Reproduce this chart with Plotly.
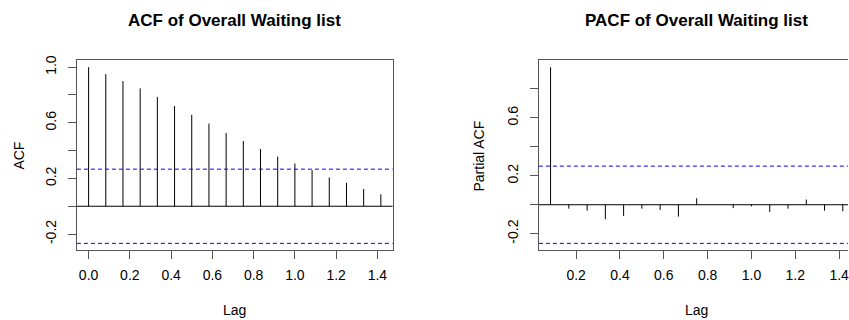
import numpy as np
import plotly.graph_objects as go

# ---------------- data ----------------
n_obs = 54  # series length -> confidence bound 1.96/sqrt(n)
acf_lags = [i / 12 for i in range(0, 18)]
acf_vals = [1.000, 0.950, 0.900, 0.848, 0.786, 0.721, 0.657, 0.595, 0.526,
            0.469, 0.412, 0.357, 0.307, 0.260, 0.207, 0.169, 0.124, 0.086]
pacf_lags = [i / 12 for i in range(1, 18)]
pacf_vals = [0.950, -0.027, -0.041, -0.100, -0.077, -0.027, -0.036, -0.082,
             0.045, 0.003, -0.023, -0.011, -0.050, -0.027, 0.036, -0.041, -0.045]
x_ticks_left = [0.0, 0.2, 0.4, 0.6, 0.8, 1.0, 1.2, 1.4]
x_ticks_right = [0.2, 0.4, 0.6, 0.8, 1.0, 1.2, 1.4]
y_ticks_left = [-0.2, 0.0, 0.2, 0.4, 0.6, 0.8, 1.0]
y_labels_left = ["-0.2", "", "0.2", "", "0.6", "", "1.0"]
y_ticks_right = [-0.2, 0.0, 0.2, 0.4, 0.6, 0.8]
y_labels_right = ["-0.2", "", "0.2", "", "0.6", ""]
titles = ["ACF of Overall Waiting list", "PACF of Overall Waiting list"]
y_titles = ["ACF", "Partial ACF"]
x_title = "Lag"

# ---------------- helpers ----------------
W, H = 849, 320
FONT = "Liberation Sans, Arial, sans-serif"
BOX = "#555555"
clim = 1.96 / np.sqrt(n_obs)


def ext(lo, hi):
    d = (hi - lo) * 0.04
    return [lo - d, hi + d]


def stems(xs, ys):
    sx, sy = [], []
    for x, y in zip(xs, ys):
        sx += [x, x, None]
        sy += [0, y, None]
    return sx, sy


fig = go.Figure()

ax1, ay1 = stems(acf_lags, acf_vals)
fig.add_trace(go.Scatter(x=ax1, y=ay1, mode="lines", line=dict(color="black", width=1),
                         xaxis="x", yaxis="y", showlegend=False, hoverinfo="skip"))
ax2, ay2 = stems(pacf_lags, pacf_vals)
fig.add_trace(go.Scatter(x=ax2, y=ay2, mode="lines", line=dict(color="black", width=1),
                         xaxis="x2", yaxis="y2", showlegend=False, hoverinfo="skip"))

# ranges (R style: 4% extension)
xr1 = ext(min(acf_lags), max(acf_lags))
yr1 = ext(min(-clim, min(acf_vals)), max(clim, max(acf_vals)))
xr2_full = ext(min(pacf_lags), max(pacf_lags))
yr2 = ext(min(-clim, min(pacf_vals)), max(clim, max(pacf_vals)))

# pixel layout
L1, R1 = 77.0, 393.0
L2 = 539.5
plot_w = R1 - L1
R2_full = L2 + plot_w
vis = (W - L2) / plot_w
xr2 = [xr2_full[0], xr2_full[0] + (xr2_full[1] - xr2_full[0]) * vis]
TOP, BOT = 56.0, 249.3
ydom = [(H - BOT) / H, (H - TOP) / H]

axis_common = dict(showgrid=False, zeroline=False, showline=True, linecolor=BOX, linewidth=1,
                   ticks="outside", ticklen=8, tickcolor=BOX, tickwidth=1,
                   tickfont=dict(family=FONT, size=14, color="black"),
                   ticklabeloverflow="allow")

fig.update_layout(
    width=W, height=H, margin=dict(l=0, r=0, t=0, b=0),
    paper_bgcolor="white", plot_bgcolor="white", showlegend=False,
    xaxis=dict(domain=[L1 / W, R1 / W], range=xr1, tickvals=x_ticks_left,
               ticktext=[f"{v:.1f}" for v in x_ticks_left], mirror=True, anchor="y",
               ticklabelstandoff=4, **axis_common),
    yaxis=dict(domain=ydom, range=yr1, tickvals=y_ticks_left, ticktext=y_labels_left,
               tickangle=-90, mirror=True, anchor="x", ticklabelstandoff=6, **axis_common),
    xaxis2=dict(domain=[L2 / W, 1.0], range=xr2, tickvals=x_ticks_right,
                ticktext=[f"{v:.1f}" for v in x_ticks_right], mirror=True, anchor="y2",
                ticklabelstandoff=4, **axis_common),
    yaxis2=dict(domain=ydom, range=yr2, tickvals=y_ticks_right, ticktext=y_labels_right,
                tickangle=-90, mirror=False, anchor="x2", ticklabelstandoff=6, **axis_common),
)

# reference lines
for xa, ya in (("x", "y"), ("x2", "y2")):
    fig.add_shape(type="line", xref=f"{xa} domain", yref=ya, x0=0, x1=1, y0=0, y1=0,
                  line=dict(color="black", width=1))
    for c in (clim, -clim):
        fig.add_shape(type="line", xref=f"{xa} domain", yref=ya, x0=0, x1=1, y0=c, y1=c,
                      line=dict(color="#0000ff", width=1, dash="4px,3px"))

# titles and axis labels
cx1 = (L1 + R1) / 2 / W
cx2 = (L2 + R2_full) / 2 / W
for cx, t in ((cx1, titles[0]), (cx2, titles[1])):
    fig.add_annotation(text=f"<b>{t}</b>", x=cx, y=(H - 15.5) / H, xref="paper", yref="paper",
                       showarrow=False, xanchor="center", yanchor="middle",
                       font=dict(family=FONT, size=17, color="black"))
    fig.add_annotation(text=x_title, x=cx, y=(H - 310) / H, xref="paper", yref="paper",
                       showarrow=False, xanchor="center", yanchor="middle",
                       font=dict(family=FONT, size=14, color="black"))
for px, t in ((19, y_titles[0]), (479.5, y_titles[1])):
    fig.add_annotation(text=t, x=px / W, y=(H - 153) / H, xref="paper", yref="paper",
                       showarrow=False, xanchor="center", yanchor="middle", textangle=-90,
                       font=dict(family=FONT, size=14, color="black"))

fig.write_html("out.html")
